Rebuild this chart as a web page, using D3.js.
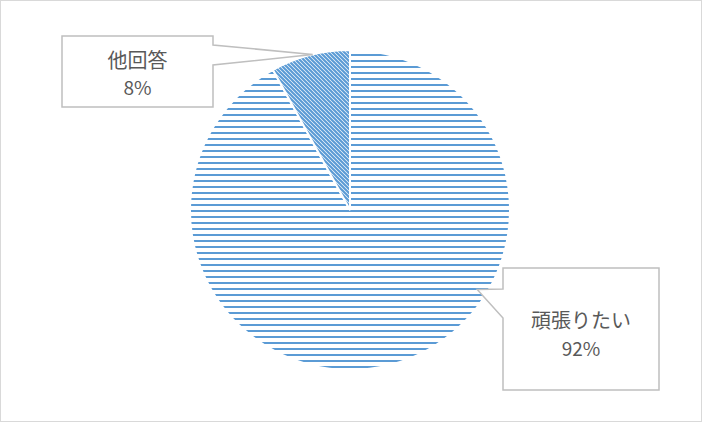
<!DOCTYPE html>
<html>
<head>
<meta charset="utf-8">
<script src="https://cdn.jsdelivr.net/npm/d3@7"></script>
<style>
  body { margin: 0; background: #fff; }
  text { font-family: "Noto Sans CJK JP", "Noto Sans", sans-serif; fill: #595959; }
</style>
</head>
<body>
<script>
// chart data
const labels = ["頑張りたい", "他回答"];
const values = [92, 8];
const pctLabels = ["92%", "8%"];

const width = 702, height = 422;
const cx = 350, cy = 210, radius = 160;
const blue = "#5b9bd5";

const svg = d3.select("body").append("svg").attr("width", width).attr("height", height);

// outer chart border
svg.append("rect").attr("x", 0.5).attr("y", 0.5).attr("width", width - 1).attr("height", height - 1)
  .attr("fill", "#fff").attr("stroke", "#d9d9d9");

const defs = svg.append("defs");
// horizontal lines pattern
const ph = defs.append("pattern").attr("id", "horiz").attr("patternUnits", "userSpaceOnUse")
  .attr("width", 8).attr("height", 6);
ph.append("rect").attr("width", 8).attr("height", 6).attr("fill", "#fff");
ph.append("rect").attr("y", 0).attr("width", 8).attr("height", 2).attr("fill", blue);
// downward diagonal pattern
const pd = defs.append("pattern").attr("id", "diag").attr("patternUnits", "userSpaceOnUse")
  .attr("width", 4).attr("height", 4);
pd.append("rect").attr("width", 4).attr("height", 4).attr("fill", "#fff");
pd.append("path").attr("d", "M-1,-1 L5,5 M-1,3 L1,5 M3,-1 L5,1")
  .attr("stroke", blue).attr("stroke-width", 2.2);

const pie = d3.pie().sort(null)(values);
const arc = d3.arc().innerRadius(0).outerRadius(radius);
const fills = ["url(#horiz)", "url(#diag)"];

const g = svg.append("g").attr("transform", `translate(${cx},${cy})`);
g.selectAll("path.slice").data(pie).enter().append("path")
  .attr("class", "slice")
  .attr("d", arc)
  .attr("fill", (d, i) => fills[i])
  .attr("stroke", "#fff").attr("stroke-width", 2);

// callouts (box position + pointer angle/radius on the pie)
const callouts = [
  { x: 503, y: 268, w: 156, h: 122, tipAngle: 122, tipR: 150, side: "left", base: [21, 50], ty: [51, 79] },
  { x: 62, y: 36, w: 151, h: 71, tipAngle: -13.5, tipR: 160, side: "right", base: [9, 29], ty: [23, 50] }
];

callouts.forEach((c, i) => {
  const a = c.tipAngle * Math.PI / 180;
  const tx = cx + c.tipR * Math.sin(a), ty = cy - c.tipR * Math.cos(a);
  const p = d3.path();
  p.moveTo(c.x, c.y);
  p.lineTo(c.x + c.w, c.y);
  if (c.side === "right") {
    p.lineTo(c.x + c.w, c.y + c.base[0]);
    p.lineTo(tx, ty);
    p.lineTo(c.x + c.w, c.y + c.base[1]);
  }
  p.lineTo(c.x + c.w, c.y + c.h);
  p.lineTo(c.x, c.y + c.h);
  if (c.side === "left") {
    p.lineTo(c.x, c.y + c.base[1]);
    p.lineTo(tx, ty);
    p.lineTo(c.x, c.y + c.base[0]);
  }
  p.closePath();
  svg.append("path").attr("d", p.toString())
    .attr("fill", "#fff").attr("stroke", "#bfbfbf").attr("stroke-width", 1.5);

  const mx = c.x + c.w / 2;
  svg.append("text").attr("x", mx).attr("y", c.y + c.ty[0]).attr("text-anchor", "middle")
    .attr("dominant-baseline", "central").attr("font-size", 20).text(labels[i]);
  svg.append("text").attr("x", mx).attr("y", c.y + c.ty[1]).attr("text-anchor", "middle")
    .attr("dominant-baseline", "central").attr("font-size", 19).text(pctLabels[i]);
});
</script>
</body>
</html>
